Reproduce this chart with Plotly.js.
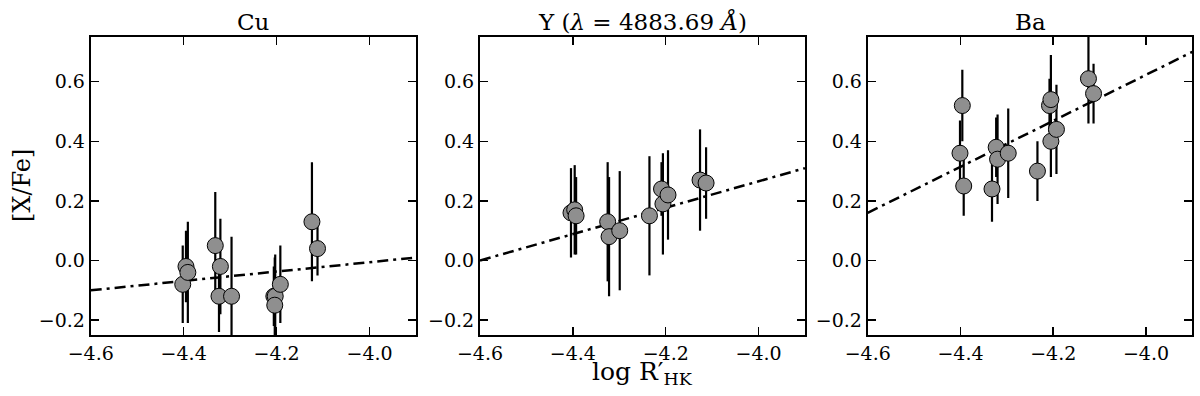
<!DOCTYPE html>
<html>
<head>
<meta charset="utf-8">
<script src="https://cdn.plot.ly/plotly-3.0.1.min.js"></script>
<style>
    html, body { margin: 0; padding: 0; background: #fff; }
    #chart { width: 1200px; height: 396px; }
</style>
</head>
<body>
<div id="chart"></div>
<script>
// Cu panel
const cuX   = [-4.402, -4.395, -4.391, -4.332, -4.321, -4.324, -4.297, -4.206, -4.203, -4.204, -4.192, -4.124, -4.112];
const cuY   = [-0.08, -0.02, -0.04, 0.05, -0.02, -0.12, -0.12, -0.12, -0.12, -0.15, -0.08, 0.13, 0.04];
const cuErr = [0.13, 0.12, 0.17, 0.18, 0.16, 0.12, 0.20, 0.10, 0.14, 0.16, 0.13, 0.20, 0.09];

// Y panel
const yX   = [-4.404, -4.396, -4.393, -4.325, -4.322, -4.299, -4.235, -4.209, -4.206, -4.195, -4.126, -4.113];
const yY   = [0.16, 0.17, 0.15, 0.13, 0.08, 0.10, 0.15, 0.24, 0.19, 0.22, 0.27, 0.26];
const yErr = [0.15, 0.15, 0.13, 0.20, 0.20, 0.20, 0.20, 0.09, 0.17, 0.15, 0.17, 0.12];

// Ba panel
const baX   = [-4.396, -4.401, -4.393, -4.332, -4.323, -4.320, -4.297, -4.234, -4.208, -4.205, -4.205, -4.193, -4.124, -4.113];
const baY   = [0.52, 0.36, 0.25, 0.24, 0.38, 0.34, 0.36, 0.30, 0.52, 0.54, 0.40, 0.44, 0.61, 0.56];
const baErr = [0.12, 0.11, 0.10, 0.11, 0.10, 0.15, 0.15, 0.10, 0.09, 0.15, 0.12, 0.15, 0.15, 0.10];

// linear fits (end points)
const fitX  = [-4.6, -3.9];
const cuFit = [-0.10, 0.01];
const yFit  = [0.00, 0.31];
const baFit = [0.16, 0.70];

const panelTitles = ['Cu', 'Y (<i>λ</i> = 4883.69 <i>Å</i>)', 'Ba'];

const FONT = 'DejaVu Serif, serif';
const domains = [[0.0756, 0.3467], [0.4, 0.6708], [0.7231, 0.9936]];

const panels = [
    { x: cuX, y: cuY, err: cuErr, fit: cuFit },
    { x: yX, y: yY, err: yErr, fit: yFit },
    { x: baX, y: baY, err: baErr, fit: baFit }
];

const traces = [];
const layout = {
    width: 1200,
    height: 396,
    margin: { l: 0, r: 0, t: 37, b: 61 },
    paper_bgcolor: '#fff',
    plot_bgcolor: '#fff',
    showlegend: false,
    font: { family: FONT, color: '#000', size: 19 },
    annotations: []
};

panels.forEach((p, i) => {
    const n = i === 0 ? '' : String(i + 1);
    const xa = 'x' + n, ya = 'y' + n;

    // fit line
    traces.push({
        x: fitX, y: p.fit, xaxis: xa, yaxis: ya,
        type: 'scatter', mode: 'lines',
        line: { color: '#000', width: 2.5, dash: '11px,5px,3px,5px' },
        hoverinfo: 'skip'
    });

    // points with error bars
    traces.push({
        x: p.x, y: p.y, xaxis: xa, yaxis: ya,
        type: 'scatter', mode: 'markers',
        marker: { size: 16, color: '#8f8f8f', line: { color: '#000', width: 1 } },
        error_y: { type: 'data', array: p.err, visible: true, color: '#000', thickness: 2.2, width: 0 }
    });

    const axisCommon = {
        showgrid: false, zeroline: false,
        showline: true, linecolor: '#000', linewidth: 2, mirror: 'ticks',
        ticks: 'inside', ticklen: 8, tickwidth: 1.5, tickcolor: '#000',
        tickformat: '.1f',
        tickfont: { family: FONT, size: 19, color: '#000' }
    };

    layout['xaxis' + n] = Object.assign({}, axisCommon, {
        domain: domains[i], anchor: ya,
        range: [-4.6, -3.9], tick0: -4.6, dtick: 0.2
    });
    layout['yaxis' + n] = Object.assign({}, axisCommon, {
        domain: [0, 1], anchor: xa,
        range: [-0.25, 0.75], tick0: 0, dtick: 0.2
    });

    // panel title
    layout.annotations.push({
        text: panelTitles[i],
        xref: 'paper', yref: 'paper',
        x: (domains[i][0] + domains[i][1]) / 2, y: 1,
        xanchor: 'center', yanchor: 'bottom',
        showarrow: false,
        font: { family: FONT, size: 23, color: '#000' }
    });
});

// shared axis labels
layout.annotations.push({
    text: 'log R′<sub>HK</sub>',
    xref: 'paper', yref: 'paper',
    x: (domains[1][0] + domains[1][1]) / 2, y: 0,
    xanchor: 'center', yanchor: 'top', yshift: -20,
    showarrow: false,
    font: { family: FONT, size: 25, color: '#000' }
});
layout.annotations.push({
    text: '[X/Fe]',
    xref: 'paper', yref: 'paper',
    x: 22 / 1200, y: 0.5,
    xanchor: 'center', yanchor: 'middle',
    textangle: -90,
    showarrow: false,
    font: { family: FONT, size: 24, color: '#000' }
});

Plotly.newPlot('chart', traces, layout, { staticPlot: true, displayModeBar: false });
</script>
</body>
</html>
